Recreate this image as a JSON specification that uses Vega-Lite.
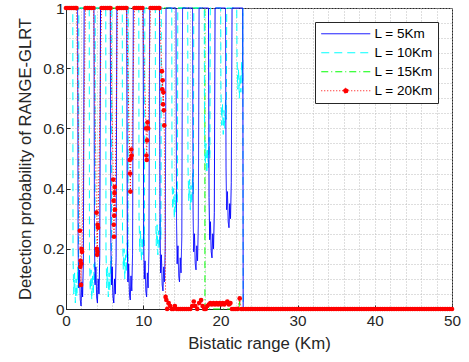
{
  "$schema": "https://vega.github.io/schema/vega-lite/v6.json",
  "width": 386,
  "height": 301,
  "autosize": "none",
  "padding": {"left": 66, "top": 8, "right": 17, "bottom": 53},
  "background": "white",
  "config": {
    "font": "Liberation Sans",
    "view": {"stroke": "#262626", "strokeWidth": 1},
    "axis": {
      "domainColor": "#262626",
      "tickColor": "#262626",
      "labelColor": "#262626",
      "titleColor": "#262626",
      "labelFontSize": 15.3,
      "titleFontSize": 16.8,
      "titleFontWeight": "normal",
      "grid": true,
      "gridColor": "#bdbdbd",
      "gridDash": [1, 2],
      "gridOpacity": 1
    }
  },
  "datasets": {
    "L5": [
      {"x": 0, "y": 1},
      {"x": 1.5, "y": 1}, {"x": 1.57, "y": 0.21}, {"x": 1.65, "y": 0.07}, {"x": 1.75, "y": 0.13}, {"x": 1.85, "y": 0.03}, {"x": 1.95, "y": 0.01}, {"x": 2.05, "y": 0.09}, {"x": 2.15, "y": 0.04}, {"x": 2.25, "y": 0.16}, {"x": 2.35, "y": 1},
      {"x": 3.62, "y": 1}, {"x": 3.69, "y": 0.22}, {"x": 3.77, "y": 0.08}, {"x": 3.87, "y": 0.14}, {"x": 3.97, "y": 0.04}, {"x": 4.07, "y": 0.02}, {"x": 4.17, "y": 0.1}, {"x": 4.27, "y": 0.05}, {"x": 4.37, "y": 0.17}, {"x": 4.47, "y": 1},
      {"x": 5.74, "y": 1}, {"x": 5.81, "y": 0.22}, {"x": 5.89, "y": 0.08}, {"x": 5.99, "y": 0.14}, {"x": 6.09, "y": 0.04}, {"x": 6.19, "y": 0.02}, {"x": 6.29, "y": 0.1}, {"x": 6.39, "y": 0.05}, {"x": 6.49, "y": 0.17}, {"x": 6.59, "y": 1},
      {"x": 7.87, "y": 1}, {"x": 7.94, "y": 0.23}, {"x": 8.02, "y": 0.09}, {"x": 8.12, "y": 0.15}, {"x": 8.22, "y": 0.05}, {"x": 8.32, "y": 0.03}, {"x": 8.42, "y": 0.11}, {"x": 8.52, "y": 0.06}, {"x": 8.62, "y": 0.18}, {"x": 8.72, "y": 1},
      {"x": 9.99, "y": 1}, {"x": 10.06, "y": 0.24}, {"x": 10.14, "y": 0.1}, {"x": 10.24, "y": 0.16}, {"x": 10.34, "y": 0.06}, {"x": 10.44, "y": 0.04}, {"x": 10.54, "y": 0.12}, {"x": 10.64, "y": 0.07}, {"x": 10.74, "y": 0.19}, {"x": 10.84, "y": 1},
      {"x": 12.11, "y": 1}, {"x": 12.18, "y": 0.26}, {"x": 12.26, "y": 0.12}, {"x": 12.36, "y": 0.18}, {"x": 12.46, "y": 0.08}, {"x": 12.56, "y": 0.06}, {"x": 12.66, "y": 0.14}, {"x": 12.76, "y": 0.09}, {"x": 12.86, "y": 0.21}, {"x": 12.96, "y": 1},
      {"x": 14.25, "y": 1}, {"x": 14.32, "y": 0.29}, {"x": 14.4, "y": 0.15}, {"x": 14.5, "y": 0.21}, {"x": 14.6, "y": 0.11}, {"x": 14.7, "y": 0.09}, {"x": 14.8, "y": 0.17}, {"x": 14.9, "y": 0.12}, {"x": 15.0, "y": 0.24}, {"x": 15.1, "y": 1},
      {"x": 16.39, "y": 1}, {"x": 16.46, "y": 0.33}, {"x": 16.54, "y": 0.19}, {"x": 16.64, "y": 0.25}, {"x": 16.74, "y": 0.15}, {"x": 16.84, "y": 0.13}, {"x": 16.94, "y": 0.21}, {"x": 17.04, "y": 0.16}, {"x": 17.14, "y": 0.28}, {"x": 17.24, "y": 1},
      {"x": 18.46, "y": 1}, {"x": 18.53, "y": 0.37}, {"x": 18.61, "y": 0.23}, {"x": 18.71, "y": 0.29}, {"x": 18.81, "y": 0.19}, {"x": 18.91, "y": 0.17}, {"x": 19.01, "y": 0.25}, {"x": 19.11, "y": 0.2}, {"x": 19.21, "y": 0.32}, {"x": 19.31, "y": 1},
      {"x": 20.66, "y": 1}, {"x": 20.73, "y": 0.47}, {"x": 20.81, "y": 0.33}, {"x": 20.91, "y": 0.39}, {"x": 21.01, "y": 0.29}, {"x": 21.11, "y": 0.27}, {"x": 21.21, "y": 0.35}, {"x": 21.31, "y": 0.3}, {"x": 21.41, "y": 0.42}, {"x": 21.51, "y": 1},
      {"x": 22.9, "y": 1}, {"x": 22.95, "y": 0}, {"x": 50, "y": 0}
    ],
    "L10": [
      {"x": 0, "y": 1},
      {"x": 0.88, "y": 1}, {"x": 0.91, "y": 0.17}, {"x": 1.01, "y": 0.05}, {"x": 1.11, "y": 0.12}, {"x": 1.21, "y": 0.02}, {"x": 1.31, "y": 0.1}, {"x": 1.41, "y": 0.04}, {"x": 1.51, "y": 0.14}, {"x": 1.61, "y": 0.07}, {"x": 1.66, "y": 1},
      {"x": 3.01, "y": 1}, {"x": 3.04, "y": 0.18}, {"x": 3.14, "y": 0.06}, {"x": 3.24, "y": 0.13}, {"x": 3.34, "y": 0.03}, {"x": 3.44, "y": 0.11}, {"x": 3.54, "y": 0.05}, {"x": 3.64, "y": 0.15}, {"x": 3.74, "y": 0.08}, {"x": 3.79, "y": 1},
      {"x": 5.15, "y": 1}, {"x": 5.18, "y": 0.19}, {"x": 5.28, "y": 0.07}, {"x": 5.38, "y": 0.14}, {"x": 5.48, "y": 0.04}, {"x": 5.58, "y": 0.12}, {"x": 5.68, "y": 0.06}, {"x": 5.78, "y": 0.16}, {"x": 5.88, "y": 0.09}, {"x": 5.93, "y": 1},
      {"x": 7.29, "y": 1}, {"x": 7.32, "y": 0.25}, {"x": 7.42, "y": 0.13}, {"x": 7.52, "y": 0.2}, {"x": 7.62, "y": 0.1}, {"x": 7.72, "y": 0.18}, {"x": 7.82, "y": 0.12}, {"x": 7.92, "y": 0.22}, {"x": 8.02, "y": 0.15}, {"x": 8.07, "y": 1},
      {"x": 9.43, "y": 1}, {"x": 9.46, "y": 0.31}, {"x": 9.56, "y": 0.19}, {"x": 9.66, "y": 0.26}, {"x": 9.76, "y": 0.16}, {"x": 9.86, "y": 0.24}, {"x": 9.96, "y": 0.18}, {"x": 10.06, "y": 0.28}, {"x": 10.16, "y": 0.21}, {"x": 10.21, "y": 1},
      {"x": 11.57, "y": 1}, {"x": 11.6, "y": 0.33}, {"x": 11.7, "y": 0.21}, {"x": 11.8, "y": 0.28}, {"x": 11.9, "y": 0.18}, {"x": 12.0, "y": 0.26}, {"x": 12.1, "y": 0.2}, {"x": 12.2, "y": 0.3}, {"x": 12.3, "y": 0.23}, {"x": 12.35, "y": 1},
      {"x": 13.7, "y": 1}, {"x": 13.73, "y": 0.45}, {"x": 13.83, "y": 0.33}, {"x": 13.93, "y": 0.4}, {"x": 14.03, "y": 0.3}, {"x": 14.13, "y": 0.38}, {"x": 14.23, "y": 0.32}, {"x": 14.33, "y": 0.42}, {"x": 14.43, "y": 0.35}, {"x": 14.48, "y": 1},
      {"x": 15.77, "y": 1}, {"x": 15.8, "y": 0.48}, {"x": 15.9, "y": 0.36}, {"x": 16.0, "y": 0.43}, {"x": 16.1, "y": 0.33}, {"x": 16.2, "y": 0.41}, {"x": 16.3, "y": 0.35}, {"x": 16.4, "y": 0.45}, {"x": 16.5, "y": 0.38}, {"x": 16.55, "y": 1},
      {"x": 17.91, "y": 1}, {"x": 17.94, "y": 0.6}, {"x": 18.04, "y": 0.48}, {"x": 18.14, "y": 0.55}, {"x": 18.24, "y": 0.45}, {"x": 18.34, "y": 0.53}, {"x": 18.44, "y": 0.47}, {"x": 18.54, "y": 0.57}, {"x": 18.64, "y": 0.5}, {"x": 18.69, "y": 1},
      {"x": 20.04, "y": 1}, {"x": 20.07, "y": 0.73}, {"x": 20.17, "y": 0.61}, {"x": 20.27, "y": 0.68}, {"x": 20.37, "y": 0.58}, {"x": 20.47, "y": 0.66}, {"x": 20.57, "y": 0.6}, {"x": 20.67, "y": 0.7}, {"x": 20.77, "y": 0.63}, {"x": 20.82, "y": 1},
      {"x": 22.12, "y": 1}, {"x": 22.15, "y": 0.85}, {"x": 22.25, "y": 0.73}, {"x": 22.35, "y": 0.8}, {"x": 22.45, "y": 0.7}, {"x": 22.55, "y": 0.78}, {"x": 22.65, "y": 0.72}, {"x": 22.75, "y": 0.82}, {"x": 22.85, "y": 0.75}, {"x": 22.9, "y": 1},
      {"x": 22.95, "y": 0}, {"x": 50, "y": 0}
    ],
    "L15": [
      {"x": 0, "y": 1}, {"x": 17.98, "y": 1}, {"x": 18.0, "y": 0}, {"x": 22.4, "y": 0}, {"x": 22.5, "y": 0.03}, {"x": 22.6, "y": 0}, {"x": 50, "y": 0}
    ],
    "L20": [
      {"x": 0, "y": 1}, {"x": 0.25, "y": 1}, {"x": 0.5, "y": 1}, {"x": 0.75, "y": 1}, {"x": 1.0, "y": 1}, {"x": 1.2, "y": 1}, {"x": 1.36, "y": 1},
      {"x": 1.8, "y": 0.26}, {"x": 1.86, "y": 0.14}, {"x": 1.9, "y": 0.16}, {"x": 1.94, "y": 0.08}, {"x": 1.98, "y": 0.15}, {"x": 2.02, "y": 0.2}, {"x": 2.08, "y": 0.19},
      {"x": 2.53, "y": 1}, {"x": 2.78, "y": 1}, {"x": 3.03, "y": 1}, {"x": 3.28, "y": 1}, {"x": 3.56, "y": 1},
      {"x": 3.96, "y": 0.32}, {"x": 4.0, "y": 0.2}, {"x": 4.04, "y": 0.18}, {"x": 4.07, "y": 0.19}, {"x": 4.1, "y": 0.28}, {"x": 4.15, "y": 0.27},
      {"x": 4.6, "y": 1}, {"x": 4.85, "y": 1}, {"x": 5.1, "y": 1}, {"x": 5.35, "y": 1}, {"x": 5.6, "y": 1}, {"x": 5.76, "y": 1},
      {"x": 6.12, "y": 0.43}, {"x": 6.16, "y": 0.36}, {"x": 6.19, "y": 0.28}, {"x": 6.22, "y": 0.24}, {"x": 6.25, "y": 0.31}, {"x": 6.28, "y": 0.385}, {"x": 6.31, "y": 0.405}, {"x": 6.34, "y": 0.33},
      {"x": 6.67, "y": 1}, {"x": 6.92, "y": 1}, {"x": 7.17, "y": 1}, {"x": 7.42, "y": 1}, {"x": 7.67, "y": 1}, {"x": 7.84, "y": 1},
      {"x": 8.26, "y": 0.495}, {"x": 8.3, "y": 0.45}, {"x": 8.34, "y": 0.39}, {"x": 8.4, "y": 0.5}, {"x": 8.45, "y": 0.53}, {"x": 8.5, "y": 0.51},
      {"x": 8.87, "y": 1}, {"x": 9.12, "y": 1}, {"x": 9.37, "y": 1}, {"x": 9.62, "y": 1}, {"x": 9.9, "y": 1},
      {"x": 10.38, "y": 0.6}, {"x": 10.42, "y": 0.51}, {"x": 10.46, "y": 0.495}, {"x": 10.5, "y": 0.56}, {"x": 10.56, "y": 0.62}, {"x": 10.64, "y": 0.6},
      {"x": 10.95, "y": 1}, {"x": 11.2, "y": 1}, {"x": 11.45, "y": 1}, {"x": 11.7, "y": 1}, {"x": 11.95, "y": 1}, {"x": 12.1, "y": 1},
      {"x": 12.42, "y": 0.79}, {"x": 12.47, "y": 0.73}, {"x": 12.52, "y": 0.76}, {"x": 12.57, "y": 0.68}, {"x": 12.62, "y": 0.72}, {"x": 12.67, "y": 0.66}, {"x": 12.73, "y": 0.61},
      {"x": 12.9, "y": 0.04}, {"x": 13.0, "y": 0.03}, {"x": 13.1, "y": 0}, {"x": 13.3, "y": 0.02}, {"x": 13.5, "y": 0.01}, {"x": 13.7, "y": 0}, {"x": 13.9, "y": 0}, {"x": 14.1, "y": 0.01}, {"x": 14.35, "y": 0}, {"x": 14.6, "y": 0}, {"x": 14.85, "y": 0}, {"x": 15.1, "y": 0}, {"x": 15.35, "y": 0}, {"x": 15.6, "y": 0}, {"x": 15.85, "y": 0}, {"x": 16.1, "y": 0}, {"x": 16.35, "y": 0.01}, {"x": 16.55, "y": 0.025}, {"x": 16.75, "y": 0.01}, {"x": 17.0, "y": 0}, {"x": 17.25, "y": 0.02}, {"x": 17.5, "y": 0.03}, {"x": 17.7, "y": 0.01}, {"x": 17.9, "y": 0}, {"x": 18.1, "y": 0}, {"x": 18.3, "y": 0.01}, {"x": 18.5, "y": 0.015}, {"x": 18.7, "y": 0.02}, {"x": 18.9, "y": 0.015}, {"x": 19.1, "y": 0.02}, {"x": 19.3, "y": 0.015}, {"x": 19.5, "y": 0.02}, {"x": 19.7, "y": 0.015}, {"x": 19.9, "y": 0.02}, {"x": 20.1, "y": 0.015}, {"x": 20.3, "y": 0.02}, {"x": 20.5, "y": 0.015}, {"x": 20.7, "y": 0.02}, {"x": 20.9, "y": 0.025}, {"x": 21.1, "y": 0.015}, {"x": 21.3, "y": 0.02}, {"x": 21.5, "y": 0}, {"x": 21.75, "y": 0}, {"x": 22.0, "y": 0}, {"x": 22.25, "y": 0}, {"x": 22.5, "y": 0.035}, {"x": 22.7, "y": 0}, {"x": 22.95, "y": 0},
      {"x": 23.3, "y": 0}, {"x": 23.6, "y": 0}, {"x": 23.9, "y": 0}, {"x": 24.2, "y": 0}, {"x": 24.5, "y": 0}, {"x": 24.8, "y": 0}, {"x": 25.1, "y": 0}, {"x": 25.4, "y": 0}, {"x": 25.7, "y": 0}, {"x": 26.0, "y": 0},
      {"x": 26.3, "y": 0}, {"x": 26.6, "y": 0}, {"x": 26.9, "y": 0}, {"x": 27.2, "y": 0}, {"x": 27.5, "y": 0}, {"x": 27.8, "y": 0}, {"x": 28.1, "y": 0}, {"x": 28.4, "y": 0}, {"x": 28.7, "y": 0}, {"x": 29.0, "y": 0},
      {"x": 29.3, "y": 0}, {"x": 29.6, "y": 0}, {"x": 29.9, "y": 0}, {"x": 30.2, "y": 0}, {"x": 30.5, "y": 0}, {"x": 30.8, "y": 0}, {"x": 31.1, "y": 0}, {"x": 31.4, "y": 0}, {"x": 31.7, "y": 0}, {"x": 32.0, "y": 0},
      {"x": 32.3, "y": 0}, {"x": 32.6, "y": 0}, {"x": 32.9, "y": 0}, {"x": 33.2, "y": 0}, {"x": 33.5, "y": 0}, {"x": 33.8, "y": 0}, {"x": 34.1, "y": 0}, {"x": 34.4, "y": 0}, {"x": 34.7, "y": 0}, {"x": 35.0, "y": 0},
      {"x": 35.3, "y": 0}, {"x": 35.6, "y": 0}, {"x": 35.9, "y": 0}, {"x": 36.2, "y": 0}, {"x": 36.5, "y": 0}, {"x": 36.8, "y": 0}, {"x": 37.1, "y": 0}, {"x": 37.4, "y": 0}, {"x": 37.7, "y": 0}, {"x": 38.0, "y": 0},
      {"x": 38.3, "y": 0}, {"x": 38.6, "y": 0}, {"x": 38.9, "y": 0}, {"x": 39.2, "y": 0}, {"x": 39.5, "y": 0}, {"x": 39.8, "y": 0}, {"x": 40.1, "y": 0}, {"x": 40.4, "y": 0}, {"x": 40.7, "y": 0}, {"x": 41.0, "y": 0},
      {"x": 41.3, "y": 0}, {"x": 41.6, "y": 0}, {"x": 41.9, "y": 0}, {"x": 42.2, "y": 0}, {"x": 42.5, "y": 0}, {"x": 42.8, "y": 0}, {"x": 43.1, "y": 0}, {"x": 43.4, "y": 0}, {"x": 43.7, "y": 0}, {"x": 44.0, "y": 0},
      {"x": 44.3, "y": 0}, {"x": 44.6, "y": 0}, {"x": 44.9, "y": 0}, {"x": 45.2, "y": 0}, {"x": 45.5, "y": 0}, {"x": 45.8, "y": 0}, {"x": 46.1, "y": 0}, {"x": 46.4, "y": 0}, {"x": 46.7, "y": 0}, {"x": 47.0, "y": 0},
      {"x": 47.3, "y": 0}, {"x": 47.6, "y": 0}, {"x": 47.9, "y": 0}, {"x": 48.2, "y": 0}, {"x": 48.5, "y": 0}, {"x": 48.8, "y": 0}, {"x": 49.1, "y": 0}, {"x": 49.4, "y": 0}, {"x": 49.7, "y": 0}, {"x": 50.0, "y": 0}
    ]
  },
  "encoding": {
    "x": {
      "field": "x",
      "type": "quantitative",
      "scale": {"domain": [0, 50], "nice": false},
      "axis": {
        "title": "Bistatic range (Km)",
        "values": [0, 2, 4, 6, 8, 10, 12, 14, 16, 18, 20, 22, 24, 26, 28, 30, 32, 34, 36, 38, 40, 42, 44, 46, 48, 50],
        "labelExpr": "datum.value % 10 == 0 ? datum.label : ''",
        "tickOpacity": {"condition": {"test": "datum.value % 10 == 0", "value": 1}, "value": 0},
        "tickSize": -4,
        "labelPadding": 8,
        "titlePadding": 7,
        "labelFlush": false
      }
    },
    "y": {
      "field": "y",
      "type": "quantitative",
      "scale": {"domain": [0, 1], "nice": false},
      "axis": {
        "title": "Detection probability of RANGE-GLRT",
        "titleFontSize": 16.6,
        "values": [0, 0.05, 0.1, 0.15, 0.2, 0.25, 0.3, 0.35, 0.4, 0.45, 0.5, 0.55, 0.6, 0.65, 0.7, 0.75, 0.8, 0.85, 0.9, 0.95, 1],
        "labelExpr": "abs(datum.value * 5 - round(datum.value * 5)) < 0.001 ? format(datum.value, '.1~f') : ''",
        "tickOpacity": {"condition": {"test": "abs(datum.value * 5 - round(datum.value * 5)) < 0.001", "value": 1}, "value": 0},
        "tickSize": -4,
        "labelPadding": 6,
        "titlePadding": 9,
        "labelFlush": false
      }
    }
  },
  "layer": [
    {
      "data": {"name": "L15"},
      "mark": {"type": "line", "strokeWidth": 1},
      "encoding": {
        "color": {"datum": "L = 15Km", "type": "nominal", "scale": {"domain": ["L = 5Km", "L = 10Km", "L = 15Km", "L = 20Km"], "range": ["#0000ff", "#00ffff", "#00ff00", "#ff0000"]},
          "legend": {
            "title": null, "orient": "none", "legendX": 249, "legendY": 14,
            "symbolType": "M-4.9,0H4.9", "symbolSize": 100, "symbolStrokeWidth": 1,
            "symbolOffset": 19, "labelOffset": 22,
            "labelFontSize": 13.5, "labelColor": "#000000",
            "fillColor": "#ffffff", "strokeColor": "#262626", "padding": 5, "rowPadding": 4,
            "encode": {"symbols": {"update": {
              "shape": {"signal": "datum.value === 'L = 20Km' ? 'M-4.9,0H4.9M-0.5,0A0.5,0.5,0,1,1,0.5,0A0.5,0.5,0,1,1,-0.5,0' : 'M-4.9,0H4.9'"},
              "fill": {"signal": "datum.value === 'L = 20Km' ? '#ff0000' : 'transparent'"}
            }}}
          }},
        "strokeDash": {"datum": "L = 15Km", "type": "nominal", "scale": {"domain": ["L = 5Km", "L = 10Km", "L = 15Km", "L = 20Km"], "range": [[1, 0], [8, 5], [7, 3, 1, 3], [1, 2]]}, "legend": {"title": null}}
      }
    },
    {
      "data": {"name": "L10"},
      "mark": {"type": "line", "strokeWidth": 1},
      "encoding": {
        "color": {"datum": "L = 10Km", "type": "nominal"},
        "strokeDash": {"datum": "L = 10Km", "type": "nominal"}
      }
    },
    {
      "data": {"name": "L5"},
      "mark": {"type": "line", "strokeWidth": 1},
      "encoding": {
        "color": {"datum": "L = 5Km", "type": "nominal"},
        "strokeDash": {"datum": "L = 5Km", "type": "nominal"}
      }
    },
    {
      "data": {"name": "L20"},
      "mark": {"type": "line", "strokeWidth": 1},
      "encoding": {
        "color": {"datum": "L = 20Km", "type": "nominal"},
        "strokeDash": {"datum": "L = 20Km", "type": "nominal"}
      }
    },
    {
      "data": {"name": "L20"},
      "mark": {"type": "point", "filled": true, "shape": "circle", "size": 22, "color": "#ff0000", "opacity": 1}
    }
  ]
}
